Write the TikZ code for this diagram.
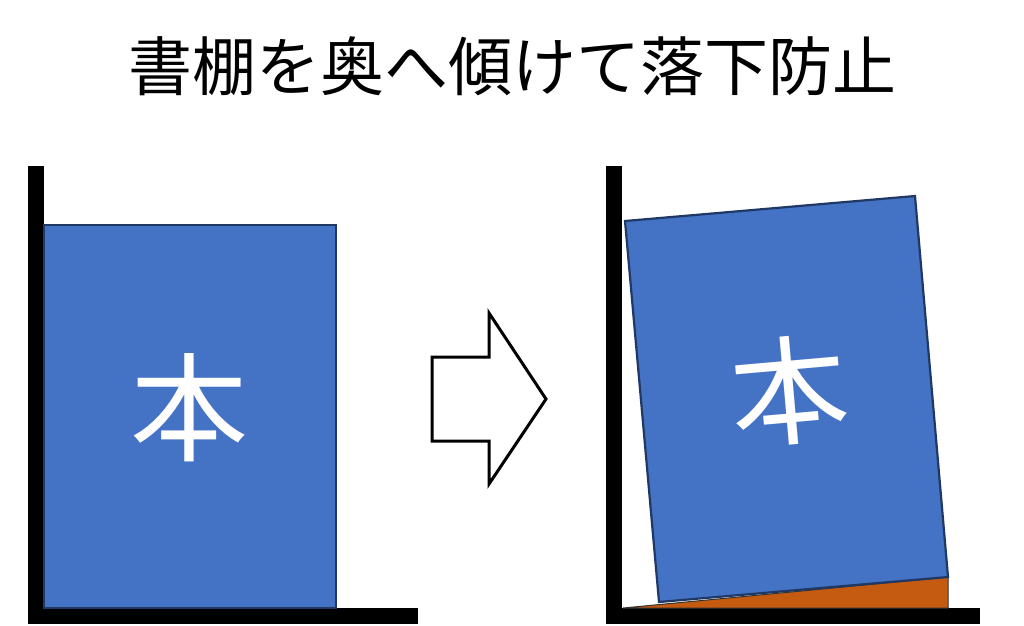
\documentclass[tikz,border=0pt]{standalone}
\usepackage{fontspec}
\newfontfamily\jp{Noto Sans CJK JP}
\definecolor{bookblue}{HTML}{4472C4}
\definecolor{bookedge}{HTML}{1F3864}
\definecolor{wedgeor}{HTML}{C55A11}
\tikzset{
  shelf/.style={fill=black, draw=none},
  bookbox/.style={fill=bookblue, draw=bookedge, line width=2.2pt, line join=miter},
  wedgebox/.style={fill=wedgeor, draw=black!80, line width=1pt, line join=miter},
  arrowbox/.style={fill=white, draw=black, line width=3pt, line join=miter},
  booklabel/.style={font=\jp\fontsize{118}{118}\selectfont, text=white, inner sep=0pt},
  titlelabel/.style={font=\jp\fontsize{64}{70}\selectfont, text=black, inner sep=0pt}
}
\begin{document}
\begin{tikzpicture}[x=1pt,y=-1pt]
\useasboundingbox (0,0) rectangle (1024,625);
\fill[white] (0,0) rectangle (1024,625);
% title
\node[titlelabel] (title) at (512,66) {書棚を奥へ傾けて落下防止};
% left shelf
\path[shelf] (28,166) rectangle (44,624);
\path[shelf] (28,608) rectangle (418,624);
% left book
\draw[bookbox] (44,225) rectangle (336,608);
\node[booklabel] (hon1) at (189,408) {本};
% arrow
\draw[arrowbox] (432,357) -- (489,357) -- (489,313) -- (546,399) -- (489,484) -- (489,441) -- (432,441) -- cycle;
% right shelf
\path[shelf] (606,166) rectangle (622,624);
\path[shelf] (606,608) rectangle (980,624);
% wedge
\draw[wedgebox] (623,608) -- (948,608) -- (948,577) -- cycle;
% right book (tilted)
\draw[bookbox] (625,221) -- (915,196) -- (948,577) -- (659,602) -- cycle;
\node[booklabel, rotate=5] (hon2) at (789,391) {本};
\end{tikzpicture}
\end{document}
